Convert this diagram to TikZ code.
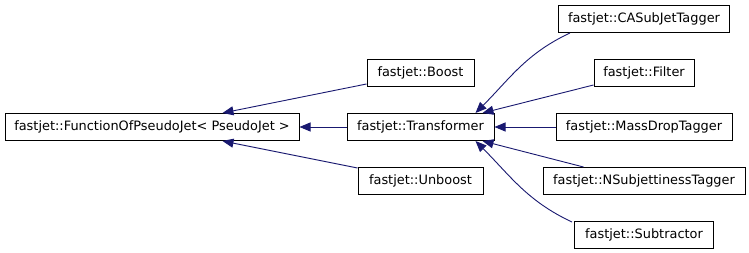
\documentclass[tikz,border=0pt]{standalone}
\usepackage{fontspec}
\setmainfont{DejaVu Sans}
\usepackage{tikz}
\usetikzlibrary{arrows.meta, positioning}
\definecolor{edgeblue}{HTML}{191970}

\begin{document}
\begin{tikzpicture}[
    x=1pt, y=-1pt,
    node distance=26pt,
    cls/.style={rectangle, draw=black, line width=1pt, fill=white, minimum height=27pt, inner sep=0pt, font=\fontsize{12.9}{15}\selectfont},
    arrow/.style={{Triangle[length=11pt, width=9pt]}-, edgeblue, line width=0.9pt}
]
\useasboundingbox (0,0) rectangle (749,253);

% Nodes
\node[cls, minimum width=294pt] (func) at (152,127) {fastjet::FunctionOfPseudoJet\textless{} PseudoJet \textgreater};
\node[cls, minimum width=147pt, right=47pt of func] (trans) {fastjet::Transformer};
\node[cls, minimum width=107pt, above=of trans] (boost) {fastjet::Boost};
\node[cls, minimum width=125pt, below=of trans] (unboost) {fastjet::Unboost};
\node[cls, minimum width=176pt, right=61pt of trans] (mass) {fastjet::MassDropTagger};
\node[cls, minimum width=100pt, above=of mass] (filter) {fastjet::Filter};
\node[cls, minimum width=171pt, above=of filter] (ca) {fastjet::CASubJetTagger};
\node[cls, minimum width=202pt, below=of mass] (nsub) {fastjet::NSubjettinessTagger};
\node[cls, minimum width=139pt, below=of nsub] (sub) {fastjet::Subtractor};

% Arrows
\draw[arrow] ([xshift=-77pt]func.north east) -- ([yshift=3pt]boost.south west);
\draw[arrow] (func) -- (trans);
\draw[arrow] ([xshift=-77pt]func.south east) -- ([yshift=-1pt]unboost.north west);
\draw[arrow] ([xshift=-19pt]trans.north east) to[out=45, in=205] ([xshift=12pt]ca.south west);
\draw[arrow] ([xshift=-12pt]trans.north east) -- ([yshift=2pt]filter.south west);
\draw[arrow] (trans) -- (mass);
\draw[arrow] ([xshift=-12pt]trans.south east) -- ([xshift=41pt]nsub.north west);
\draw[arrow] ([xshift=-19pt]trans.south east) to[out=-45, in=155] ([xshift=-2pt, yshift=-1pt]sub.north west);

\end{tikzpicture}
\end{document}
